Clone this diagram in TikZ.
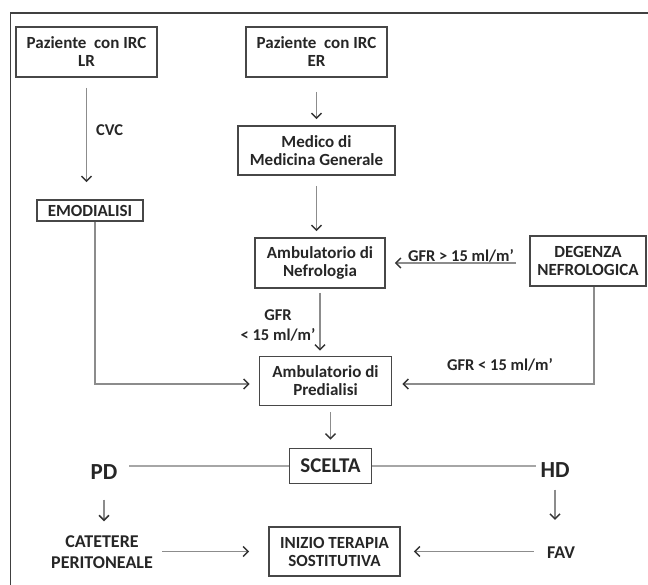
\documentclass[tikz,border=0pt]{standalone}
\usepackage{fontspec}
\setmainfont{Carlito}
\usetikzlibrary{arrows.meta}

\begin{document}
\begin{tikzpicture}[x=1pt, y=-1pt,
  boxnode/.style={rectangle, draw=black!72, line width=1.6pt, align=center,
    font=\bfseries\fontsize{17}{18}\selectfont, text=black!85, inner sep=2pt},
  plain/.style={align=center, font=\bfseries\fontsize{18}{21}\selectfont, text=black!85, inner sep=1pt},
  bigtxt/.style={font=\bfseries\fontsize{23}{25}\selectfont, text=black!85, inner sep=1pt},
  lbl/.style={align=center, font=\bfseries\fontsize{16.5}{20}\selectfont, text=black!85, inner sep=1pt},
  arr/.style={-{Straight Barb[length=5pt, width=10pt, line width=1.5pt, color=black!80]},
    draw=black!45, line width=1.3pt},
  link/.style={draw=black!35, line width=1.6pt}
]
\useasboundingbox (0,0) rectangle (648,585);
\draw[black!75, line width=1.6pt] (648,13) -- (10.5,13) -- (10.5,585);

\node[boxnode, minimum width=141pt, minimum height=50pt] (lr) at (86.5,52) {Paziente \ con IRC\\LR};
\node[boxnode, minimum width=141pt, minimum height=50pt] (er) at (316.5,52) {Paziente \ con IRC\\ER};
\node[boxnode, minimum width=157pt, minimum height=49pt] (medico) at (316.5,150.5) {Medico di\\Medicina Generale};
\node[boxnode, minimum width=106pt, minimum height=21pt] (emo) at (90,210.5) {EMODIALISI};
\node[boxnode, minimum width=130pt, minimum height=50pt] (nefro) at (320,263) {Ambulatorio di\\Nefrologia};
\node[boxnode, minimum width=116pt, minimum height=50pt] (degenza) at (588,261) {DEGENZA\\NEFROLOGICA};
\node[boxnode, minimum width=132pt, minimum height=49pt] (predial) at (325.5,381) {Ambulatorio di\\Predialisi};
\node[boxnode, minimum width=82pt, minimum height=35pt, font=\bfseries\fontsize{21}{23}\selectfont] (scelta) at (330.5,466) {SCELTA};
\node[bigtxt] (pd) at (104,472) {PD};
\node[bigtxt] (hd) at (555,470) {HD};
\node[plain] (catetere) at (102,552) {CATETERE\\PERITONEALE};
\node[boxnode, minimum width=131pt, minimum height=49pt] (inizio) at (334.5,551.5) {INIZIO TERAPIA\\SOSTITUTIVA};
\node[plain] (fav) at (561,553) {FAV};

\node[lbl, anchor=west] (cvc) at (95,130) {CVC};
\node[lbl] (gfrA) at (278,325) {GFR\\< 15 ml/m’};
\node[lbl, anchor=south] (gfrB) at (461,263) {GFR > 15 ml/m’};
\node[lbl] (gfrC) at (500,365) {GFR < 15 ml/m’};

\coordinate (emoturn) at (95,384);
\coordinate (degturn) at (594,384);

\draw[arr, shorten <=10pt, shorten >=17pt] (lr.south) -- (lr.south |- emo.north);
\draw[arr, shorten <=14pt, shorten >=6pt] (er.south) -- (er.south |- medico.north);
\draw[arr, shorten <=10pt, shorten >=6pt] (medico.south) -- (medico.south |- nefro.north);
\draw[arr, shorten <=4pt, shorten >=5pt] (nefro.south) -- (nefro.south |- predial.north);
\draw[arr, shorten >=9pt] (emo.south -| emoturn) -- (emoturn) -- (predial.west |- emoturn);
\draw[arr, shorten >=10pt] (degturn |- degenza.south) -- (degturn) -- (predial.east |- degturn);
\draw[arr, shorten <=13pt, shorten >=9pt] (degenza.west |- gfrB.south) -- (nefro.east |- gfrB.south);
\draw[arr, shorten <=6pt, shorten >=8pt] (predial.south -| scelta.north) -- (scelta.north);
\draw[link, shorten >=10pt] (scelta.west) -- (pd.east |- scelta.west);
\draw[link, shorten >=3pt] (scelta.east) -- (hd.west |- scelta.east);
\draw[arr, shorten <=19pt, shorten >=13pt] (pd.south) -- (pd.south |- catetere.north);
\draw[arr, shorten <=8pt, shorten >=19pt] (catetere.east |- inizio.west) -- (inizio.west);
\draw[arr, shorten <=11pt, shorten >=26pt] (hd.south) -- (hd.south |- fav.north);
\draw[arr, shorten <=12pt, shorten >=13pt] (fav.west |- inizio.east) -- (inizio.east);
\end{tikzpicture}
\end{document}
